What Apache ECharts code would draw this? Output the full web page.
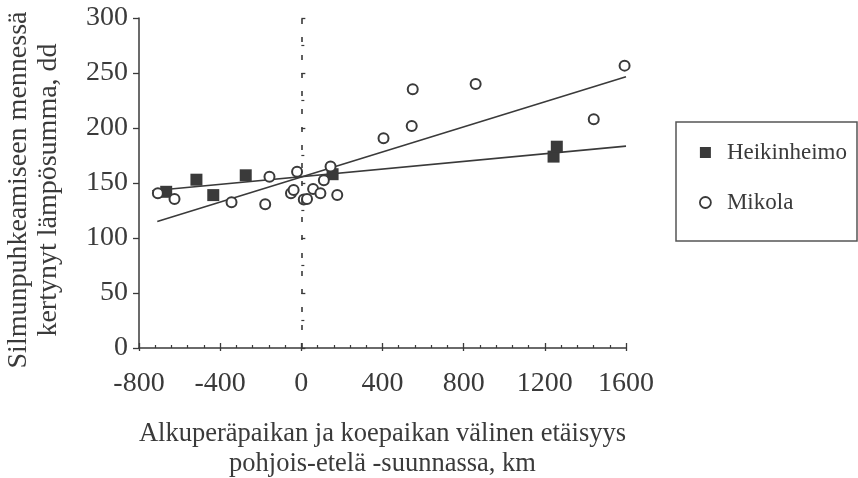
<!DOCTYPE html>
<html>
<head>
<meta charset="utf-8">
<script src="https://cdn.jsdelivr.net/npm/echarts@6/dist/echarts.min.js"></script>
<style>html,body{margin:0;padding:0;background:#fff;}#chart{width:858px;height:478px;}</style>
</head>
<body>
<div id="chart"></div>
<script>
// Data
var heikinheimo = [[-666,142],[-517,153],[-434,139],[-274,157],[154,158],[1243,174],[1259,183]];
var mikola = [[-707,140.6],[-625,135.5],[-344,132.4],[-178,130.6],[-157,155.7],[-51,140.6],[-38,143.6],
  [-21,160.3],[12,135],[28,135.5],[58,144.5],[94,140.6],[111,152.5],[144,165],[177,139],
  [405,190.6],[544,201.8],[549,235.2],[859,240],[1441,208],[1593,256.7]];
var heikinheimoFit = [[-735,143],[1600,183.5]];
var mikolaFit = [[-710,115],[1600,246.5]];
var xTicks = [-800,-400,0,400,800,1200,1600];
var yTicks = [0,50,100,150,200,250,300];
var xTitle = 'Alkuperäpaikan ja koepaikan välinen etäisyys\npohjois-etelä -suunnassa, km';
var yTitle = 'Silmunpuhkeamiseen mennessä\nkertynyt lämpösumma, dd';
var seriesNames = ['Heikinheimo','Mikola'];

var ink = '#3a3a3a';
var font = 'Liberation Serif';
var chart = echarts.init(document.getElementById('chart'), null, {renderer:'canvas'});
chart.setOption({
  backgroundColor:'#fff',
  animation:false,
  textStyle:{fontFamily:font},
  grid:{left:139, right:232, top:18, bottom:130, containLabel:false, outerBoundsMode:'none'},
  xAxis:[{
    type:'value', min:xTicks[0], max:xTicks[xTicks.length-1], interval:400,
    axisLine:{show:true, onZero:false, lineStyle:{color:ink, width:1.5}},
    axisTick:{show:true, inside:false, length:3, lineStyle:{color:ink, width:1.3}},
    axisLabel:{fontFamily:font, fontSize:28, color:ink, margin:22, formatter:function(v){return String(v);}},
    splitLine:{show:false},
    name:xTitle, nameLocation:'middle', nameGap:71,
    nameTextStyle:{fontFamily:font, fontSize:26.5, color:ink, lineHeight:30, verticalAlign:'top'}
  },{
    type:'value', min:xTicks[0], max:xTicks[xTicks.length-1], interval:400, position:'bottom',
    axisLine:{show:false}, axisLabel:{show:false}, splitLine:{show:false},
    axisTick:{show:true, inside:true, length:5, lineStyle:{color:ink, width:1.3}},
    minorTick:{show:true, splitNumber:5, length:3, lineStyle:{color:ink, width:1.2}}
  }],
  yAxis:[{
    type:'value', min:yTicks[0], max:yTicks[yTicks.length-1], interval:50,
    axisLine:{show:true, onZero:false, lineStyle:{color:ink, width:1.5}},
    axisTick:{show:true, inside:false, length:6, lineStyle:{color:ink, width:1.3}},
    axisLabel:{fontFamily:font, fontSize:28, color:ink, margin:11},
    splitLine:{show:false},
    name:yTitle, nameLocation:'middle', nameGap:75, nameRotate:90,
    nameTextStyle:{fontFamily:font, fontSize:28, color:ink, lineHeight:30, padding:[0,14,0,0]}
  },{
    type:'value', min:yTicks[0], max:yTicks[yTicks.length-1], interval:50, position:'left',
    axisLine:{show:false}, axisLabel:{show:false}, splitLine:{show:false},
    axisTick:{show:true, inside:true, length:4, lineStyle:{color:ink, width:1.3}},
    minorTick:{show:true, splitNumber:2, length:3, lineStyle:{color:ink, width:1.2}}
  }],
  legend:{
    orient:'vertical', left:694, top:136, itemGap:27, itemWidth:11, itemHeight:11,
    textStyle:{fontFamily:font, fontSize:23, color:ink, padding:[0,0,0,11]},
    data:[
      {name:seriesNames[0], icon:'rect', itemStyle:{color:ink, borderWidth:0}},
      {name:seriesNames[1], icon:'circle', itemStyle:{color:'#fff', borderColor:ink, borderWidth:1.8}}
    ]
  },
  graphic:[{type:'rect', shape:{x:676, y:122, width:181, height:119},
    style:{fill:'none', stroke:'#555', lineWidth:1.5}, z:-1}],
  series:[
    {name:'HFit', type:'line', data:heikinheimoFit, symbol:'none', silent:true,
      lineStyle:{color:ink, width:1.6}, z:1},
    {name:'MFit', type:'line', data:mikolaFit, symbol:'none', silent:true,
      lineStyle:{color:ink, width:1.6}, z:1,
      markLine:{silent:true, symbol:'none', label:{show:false},
        lineStyle:{color:ink, type:[5,13], width:1.6},
        data:[{xAxis:0}]}},
    {name:seriesNames[0], type:'scatter', data:heikinheimo, symbol:'rect', symbolSize:12,
      itemStyle:{color:ink, opacity:1}, z:3},
    {name:seriesNames[1], type:'scatter', data:mikola, symbol:'circle', symbolSize:10,
      itemStyle:{color:'#fff', borderColor:ink, borderWidth:2, opacity:1}, z:4}
  ]
});
</script>
</body>
</html>
